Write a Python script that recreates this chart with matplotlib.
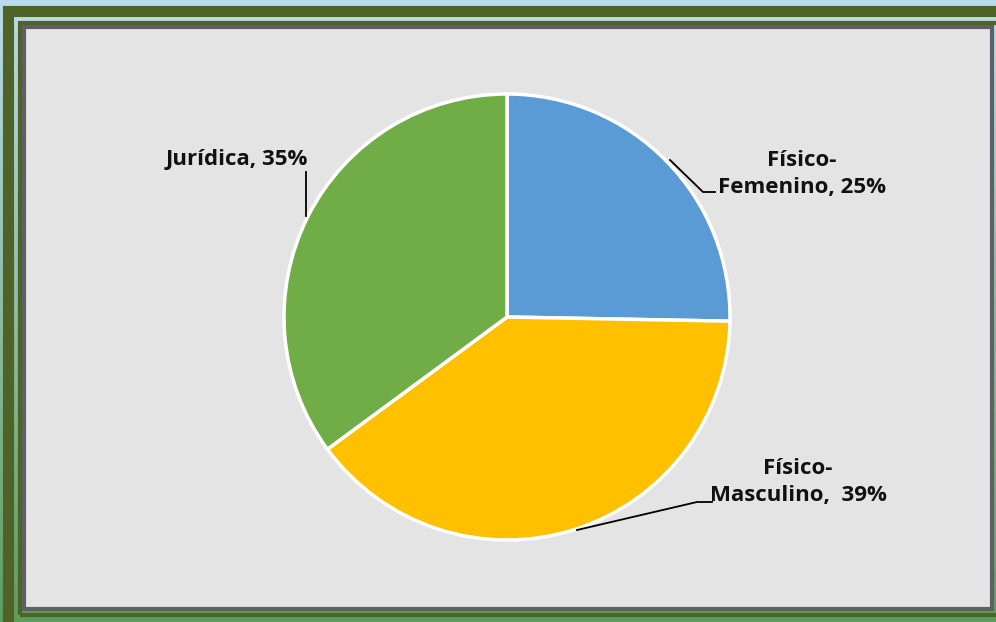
import numpy as np
import matplotlib.pyplot as plt
from matplotlib.patches import Rectangle
from matplotlib.lines import Line2D

# datos
categorias = ['Físico-\nFemenino, 25%', 'Físico-\nMasculino,  39%', 'Jurídica, 35%']
valores = [25.3, 39.6, 35.1]
colores = ['#5B9BD5', '#FFC000', '#70AD47']

W, H = 996, 622
fig = plt.figure(figsize=(W / 100, H / 100), dpi=100)

def fx(px):
    return px / W

def fy(py):
    return 1 - py / H

# fondo degradado (azul arriba, verde abajo)
bg = fig.add_axes([0, 0, 1, 1])
grad = np.linspace(0, 1, 256).reshape(-1, 1)
top = np.array([0.74, 0.86, 0.92])
bot = np.array([0.36, 0.62, 0.36])
img = top + (bot - top) * grad[..., None]
bg.imshow(img, aspect='auto', extent=[0, 1, 0, 1])
bg.set_xlim(0, 1)
bg.set_ylim(0, 1)
bg.axis('off')

# marcos verdes
def rect(x0, y0, x1, y1, **kw):
    bg.add_patch(Rectangle((fx(x0), fy(y1)), fx(x1) - fx(x0), fy(y0) - fy(y1), **kw))

rect(8, 11, 1010, 640, fill=False, edgecolor='#4F6228', linewidth=8)
rect(20, 23, 1000, 615, fill=False, edgecolor='#4F6228', linewidth=3)
# panel gris
rect(24, 27, 992, 609, facecolor='#E4E4E4', edgecolor='#5F5F66', linewidth=3)

# pastel
cx, cy, r = 507, 317, 223
ax = fig.add_axes([fx(cx - r), fy(cy + r), 2 * r / W, 2 * r / H])
ax.pie(valores, colors=colores, startangle=90, counterclock=False,
       wedgeprops=dict(edgecolor='white', linewidth=2.5))
ax.set_xlim(-1, 1)
ax.set_ylim(-1, 1)
ax.axis('off')

fuente = dict(family=['Open Sans', 'DejaVu Sans'], fontweight='bold', fontsize=16,
              color='#111111', ha='center', va='center', linespacing=1.4)

fig.text(fx(802), fy(174), categorias[0], **fuente)
fig.text(fx(798), fy(482), categorias[1], **fuente)
fig.text(fx(237), fy(160), categorias[2], **fuente)

# lineas guia
guias = [
    [(670, 160), (703, 192), (715, 192)],
    [(577, 530), (697, 502), (712, 502)],
    [(306, 172), (306, 216)],
]
for g in guias:
    xs = [fx(p[0]) for p in g]
    ys = [fy(p[1]) for p in g]
    fig.add_artist(Line2D(xs, ys, color='black', linewidth=1.3))

fig.savefig('out.png', dpi=100)
